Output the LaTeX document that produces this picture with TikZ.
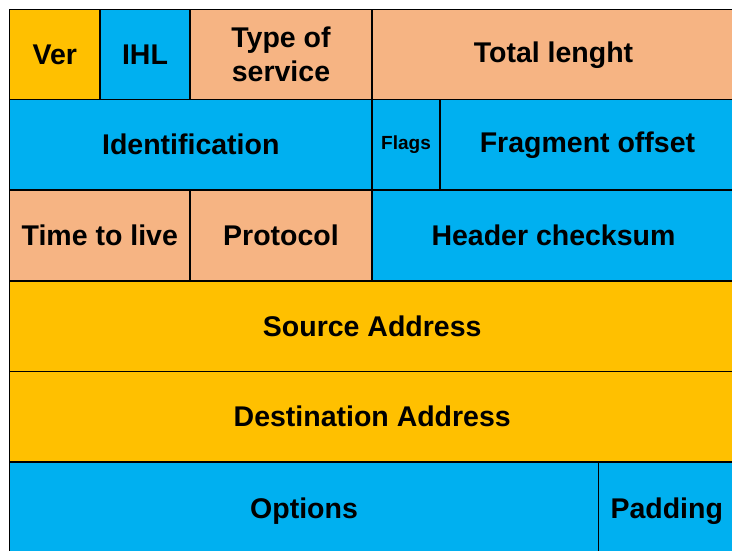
\documentclass[tikz,border=0pt]{standalone}
\usepackage{fontspec}
\setmainfont{Liberation Sans}
\usepackage{tikz}
\usepackage{xcolor}

\definecolor{hdrGold}{HTML}{FFC000}
\definecolor{hdrBlue}{HTML}{00B0F0}
\definecolor{hdrPeach}{HTML}{F6B483}

\tikzset{
  field/.style={draw=black, line width=1.3pt, fill=#1, rectangle, anchor=north west,
    inner sep=0pt, outer sep=0pt, minimum height=90.5pt, align=center,
    font=\fontsize{28.5}{34}\selectfont\bfseries},
  small/.style={font=\fontsize{19}{22}\selectfont\bfseries}
}

\begin{document}
\begin{tikzpicture}[x=1pt, y=-1pt]
    \useasboundingbox (0,0) rectangle (732,550);
    \clip (0,0) rectangle (732,550);
    % first word: version, header length, service type, length
    \node[field=hdrGold, minimum width=90.5pt] (ver) at (9.5,9.5) {Ver};
    \node[field=hdrBlue, minimum width=90pt] (ihl) at (100,9.5) {IHL};
    \node[field=hdrPeach, minimum width=182pt] (tos) at (190,9.5) {Type of\\service};
    \node[field=hdrPeach, minimum width=363pt] (totlen) at (372,9.5) {Total lenght};
    % second word: fragmentation
    \node[field=hdrBlue, minimum width=362.5pt] (ident) at (9.5,99.5) {Identification};
    \node[field=hdrBlue, small, minimum width=68pt] (flags) at (372,99.5) {Flags};
    \node[field=hdrBlue, minimum width=295pt] (fragoff) at (440,99.5) {Fragment offset};
    % third word
    \node[field=hdrPeach, minimum width=180.5pt] (ttl) at (9.5,190) {Time to live};
    \node[field=hdrPeach, minimum width=182pt] (proto) at (190,190) {Protocol};
    \node[field=hdrBlue, minimum width=363pt] (chksum) at (372,190) {Header checksum};
    % addresses
    \node[field=hdrGold, minimum width=725.5pt] (src) at (9.5,281) {Source Address};
    \node[field=hdrGold, minimum width=725.5pt] (dst) at (9.5,371.5) {Destination Address};
    % options (runs past the bottom edge)
    \node[field=hdrBlue, minimum width=589pt, minimum height=98pt] (opts) at (9.5,462) {Options};
    \node[field=hdrBlue, minimum width=136.5pt, minimum height=98pt] (pad) at (598.5,462) {Padding};
\end{tikzpicture}
\end{document}
